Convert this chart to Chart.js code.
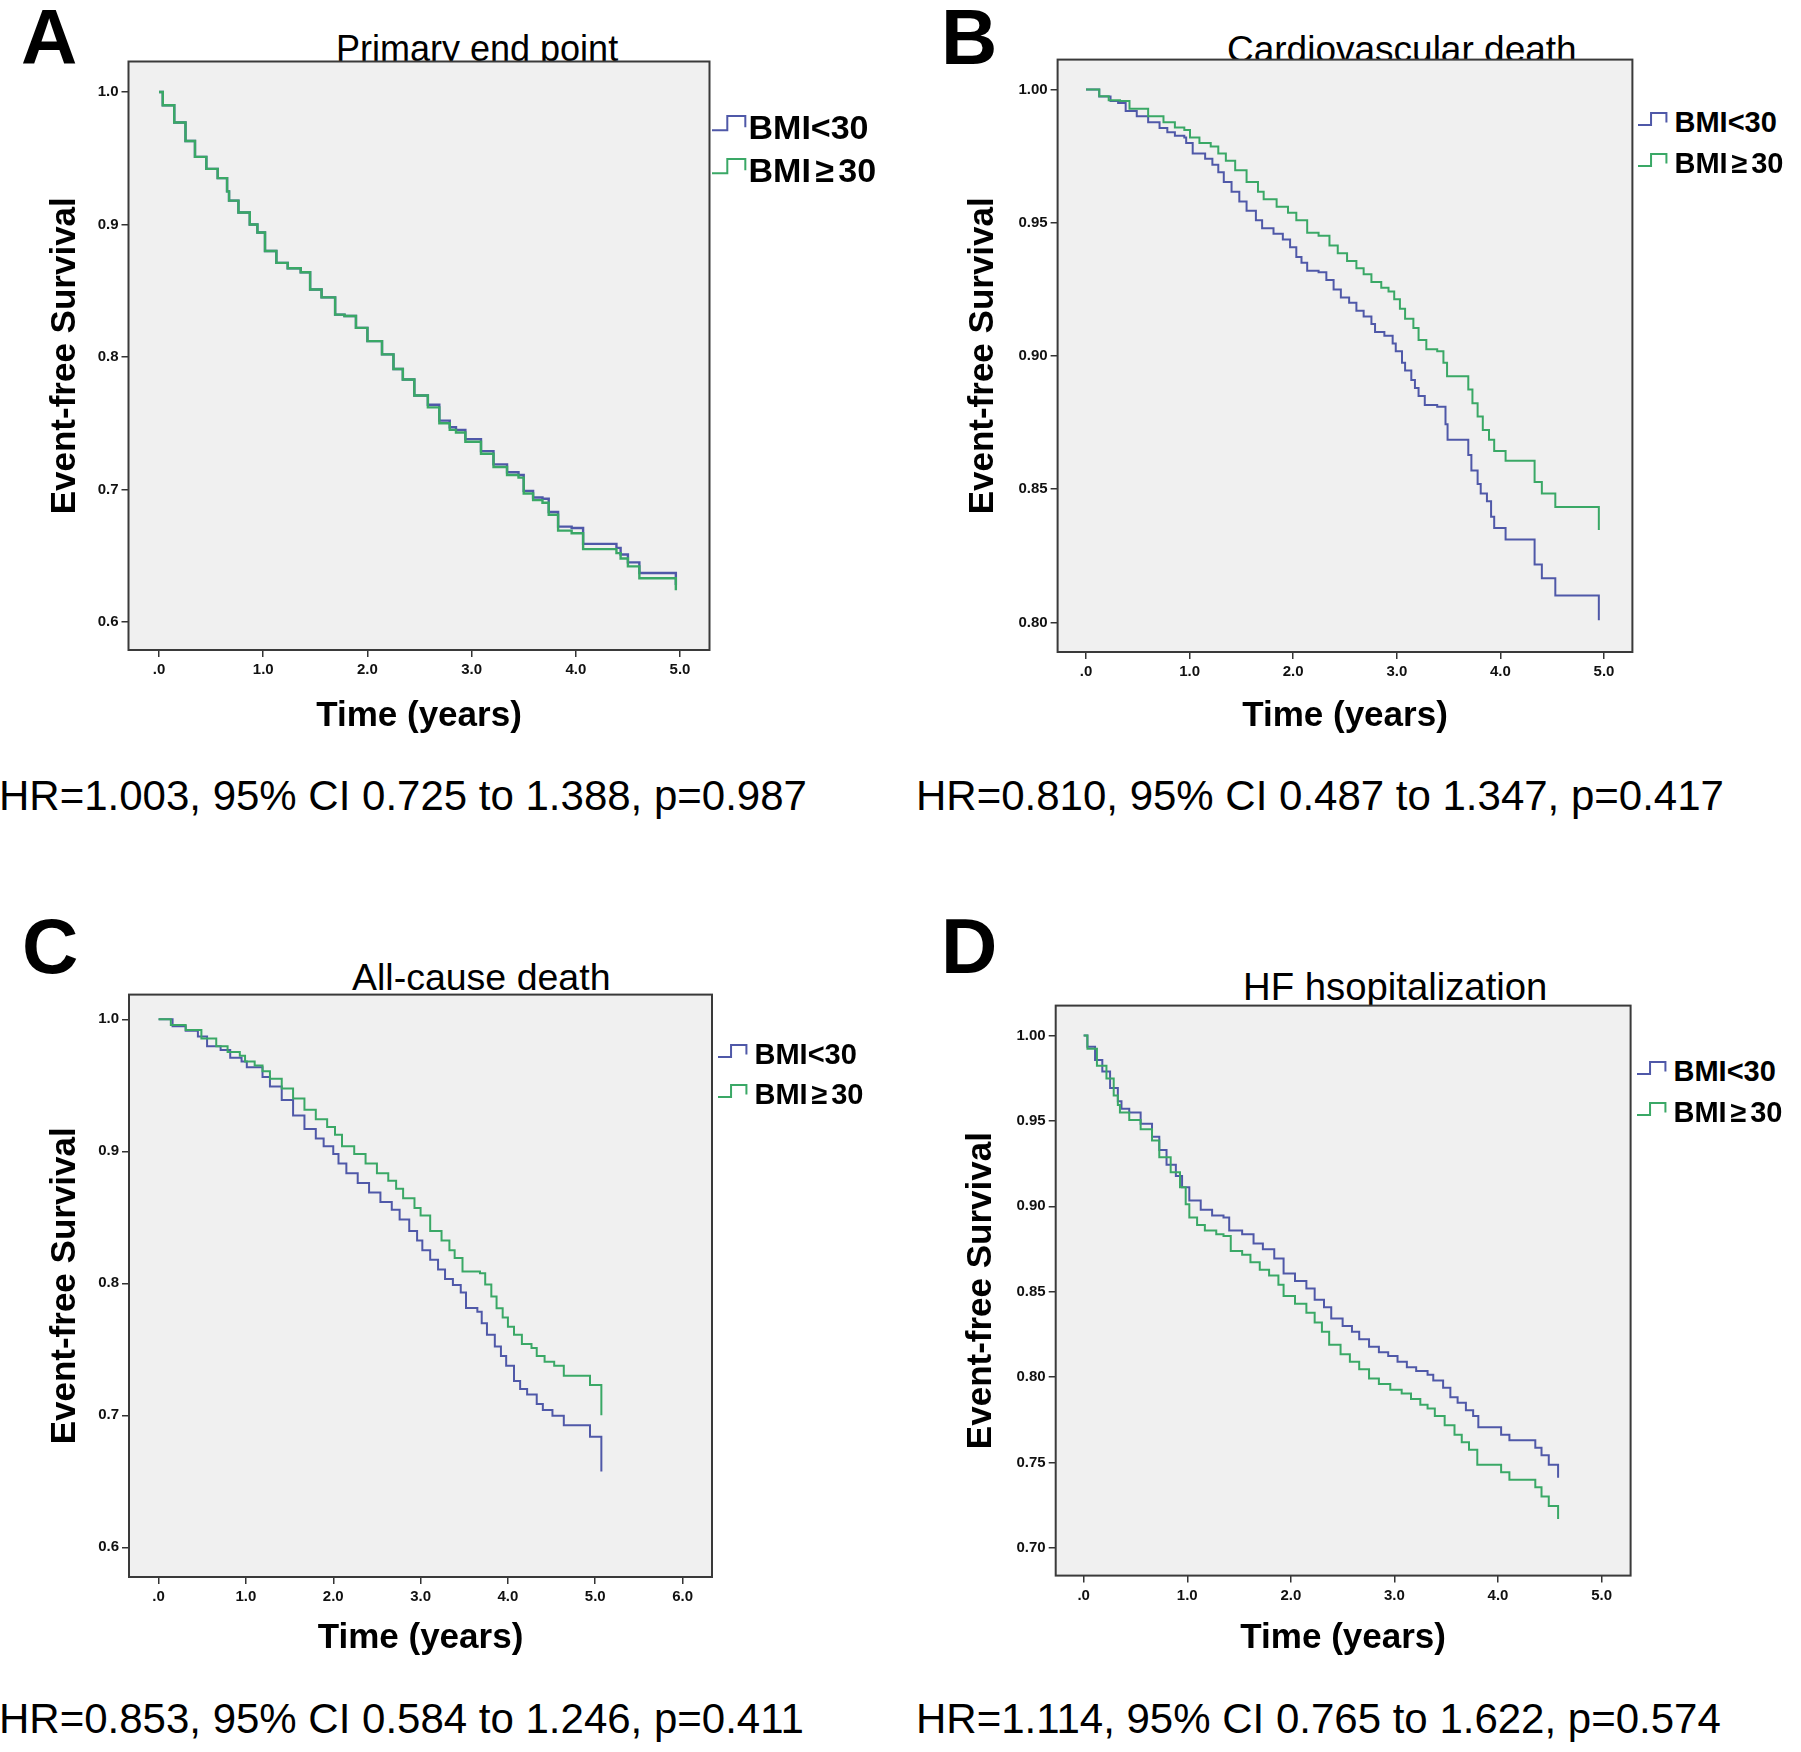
<!DOCTYPE html>
<html>
<head>
<meta charset="utf-8">
<script src="https://cdn.jsdelivr.net/npm/chart.js@4.4.1/dist/chart.umd.min.js"></script>
<style>
html,body{margin:0;padding:0;background:#fff;}
body{width:1801px;height:1752px;position:relative;overflow:hidden;font-family:"Liberation Sans",Arial,sans-serif;}
.t{position:absolute;white-space:nowrap;color:#000;line-height:1;z-index:1;}
.letter{font-weight:bold;font-size:78px;}
.hr{font-size:42px;}
.leg{font-weight:bold;z-index:3;}
.leg .ge{margin:0 0.13em;}
canvas{position:absolute;z-index:2;}
svg.sym{position:absolute;z-index:3;overflow:visible;}
</style>
</head>
<body>
<script>
// ---------------- DATA ----------------
const seriesNames = ['BMI<30', 'BMI\u226530'];
const panelLetters = ['A', 'B', 'C', 'D'];
const panelTitles = ['Primary end point', 'Cardiovascular death', 'All-cause death', 'HF hsopitalization'];
const hrTexts = [
  'HR=1.003, 95% CI 0.725 to 1.388, p=0.987',
  'HR=0.810, 95% CI 0.487 to 1.347, p=0.417',
  'HR=0.853, 95% CI 0.584 to 1.246, p=0.411',
  'HR=1.114, 95% CI 0.765 to 1.622, p=0.574'
];
const xAxisTitle = 'Time (years)';
const yAxisTitle = 'Event-free Survival';

const xTicksA = [0, 1, 2, 3, 4, 5];
const xTicksB = [0, 1, 2, 3, 4, 5];
const xTicksC = [0, 1, 2, 3, 4, 5, 6];
const xTicksD = [0, 1, 2, 3, 4, 5];
const yTicksA = [0.6, 0.7, 0.8, 0.9, 1.0];
const yTicksB = [0.80, 0.85, 0.90, 0.95, 1.00];
const yTicksC = [0.6, 0.7, 0.8, 0.9, 1.0];
const yTicksD = [0.70, 0.75, 0.80, 0.85, 0.90, 0.95, 1.00];

// Panel A: primary end point
const aTime = [0,0.036,0.146,0.254,0.345,0.454,0.563,0.653,0.672,0.762,0.871,0.944,1.017,1.126,1.235,1.36,1.45,1.56,1.69,1.78,1.89,2.0,2.14,2.25,2.34,2.45,2.58,2.69,2.79,2.85,2.94,3.09,3.21,3.34,3.45,3.50,3.59,3.68,3.74,3.83,3.96,4.07,4.39,4.43,4.50,4.61,4.96];
const aSurvLow = [1.0,0.99,0.977,0.963,0.951,0.942,0.935,0.925,0.918,0.909,0.900,0.894,0.880,0.871,0.867,0.864,0.851,0.845,0.832,0.831,0.822,0.812,0.802,0.791,0.783,0.771,0.764,0.752,0.747,0.745,0.738,0.729,0.719,0.713,0.711,0.699,0.694,0.693,0.683,0.672,0.671,0.659,0.656,0.651,0.645,0.637,0.628];
const aSurvHigh = [1.0,0.99,0.977,0.963,0.951,0.942,0.935,0.925,0.918,0.909,0.900,0.894,0.880,0.871,0.867,0.864,0.851,0.845,0.832,0.831,0.822,0.812,0.802,0.791,0.783,0.771,0.762,0.750,0.745,0.743,0.736,0.727,0.717,0.711,0.709,0.697,0.692,0.690,0.681,0.669,0.667,0.655,0.652,0.648,0.642,0.633,0.624];

// Panel B: cardiovascular death
const bTimeLow = [0,0.128,0.237,0.31,0.383,0.49,0.60,0.71,0.785,0.858,0.949,0.967,1.03,1.15,1.22,1.277,1.33,1.405,1.48,1.55,1.64,1.70,1.81,1.90,1.97,2.03,2.08,2.135,2.245,2.32,2.39,2.46,2.54,2.61,2.68,2.755,2.79,2.88,2.96,2.99,3.05,3.08,3.14,3.175,3.21,3.27,3.39,3.47,3.49,3.69,3.72,3.78,3.81,3.87,3.91,3.94,4.05,4.33,4.40,4.53,4.95];
const bSurvLow = [1.0,0.9974,0.9957,0.995,0.992,0.990,0.9877,0.9856,0.984,0.9827,0.982,0.980,0.976,0.974,0.9718,0.969,0.9653,0.9617,0.958,0.9545,0.951,0.948,0.9459,0.9437,0.9408,0.9372,0.935,0.932,0.9314,0.9285,0.925,0.922,0.920,0.917,0.9148,0.912,0.909,0.9076,0.9047,0.9018,0.8975,0.8946,0.891,0.888,0.885,0.8816,0.881,0.8744,0.8686,0.8628,0.857,0.852,0.8484,0.8455,0.8397,0.8354,0.8311,0.8217,0.8166,0.8101,0.8008];
const bTimeHigh = [0,0.128,0.219,0.328,0.42,0.60,0.748,0.858,0.949,1.004,1.095,1.204,1.277,1.35,1.44,1.55,1.66,1.715,1.84,1.95,2.03,2.135,2.245,2.35,2.43,2.52,2.61,2.68,2.755,2.85,2.92,2.975,3.03,3.08,3.16,3.21,3.285,3.39,3.45,3.485,3.69,3.73,3.78,3.83,3.89,3.94,4.05,4.33,4.40,4.53,4.95];
const bSurvHigh = [1.0,0.9975,0.996,0.9957,0.9928,0.990,0.9877,0.9858,0.9848,0.982,0.980,0.9786,0.976,0.9733,0.9697,0.9653,0.9617,0.9588,0.956,0.9538,0.951,0.9463,0.9451,0.9415,0.9386,0.9357,0.9329,0.9307,0.9278,0.9256,0.9242,0.9213,0.9177,0.914,0.9105,0.906,0.9025,0.9018,0.8975,0.8924,0.8874,0.8823,0.8773,0.8722,0.8686,0.8643,0.8607,0.8527,0.8484,0.8433,0.8347];

// Panel C: all-cause death
const cTimeLow = [0,0.16,0.31,0.45,0.555,0.71,0.82,0.95,1.01,1.19,1.275,1.41,1.54,1.67,1.80,1.89,2.0,2.06,2.15,2.28,2.41,2.54,2.67,2.76,2.87,2.96,3.02,3.11,3.20,3.28,3.37,3.46,3.52,3.65,3.70,3.76,3.85,3.92,3.98,4.07,4.14,4.22,4.33,4.40,4.51,4.64,4.94,5.07];
const cSurvLow = [1.0,0.9948,0.9913,0.9869,0.9796,0.9767,0.9708,0.968,0.9636,0.9563,0.949,0.9388,0.9271,0.9169,0.9096,0.9038,0.898,0.8907,0.8834,0.876,0.8688,0.8615,0.8557,0.8484,0.8397,0.8324,0.825,0.8178,0.8105,0.8032,0.7988,0.793,0.7813,0.7784,0.7697,0.761,0.7522,0.745,0.7376,0.726,0.720,0.7157,0.7085,0.704,0.6997,0.6924,0.6837,0.6574];
const cTimeHigh = [0,0.14,0.31,0.49,0.66,0.79,0.93,0.99,1.10,1.19,1.275,1.41,1.54,1.67,1.80,1.93,2.02,2.10,2.24,2.37,2.50,2.63,2.72,2.80,2.93,3.0,3.11,3.24,3.33,3.39,3.48,3.68,3.74,3.81,3.87,3.94,4.0,4.07,4.16,4.27,4.33,4.42,4.53,4.64,4.94,5.07];
const cSurvHigh = [1.0,0.9956,0.9918,0.9854,0.9796,0.9752,0.9723,0.968,0.965,0.9606,0.955,0.9475,0.940,0.9315,0.9242,0.9184,0.9125,0.9038,0.898,0.8907,0.8834,0.8776,0.8717,0.8644,0.8571,0.8513,0.8397,0.8324,0.825,0.8192,0.809,0.8076,0.799,0.790,0.781,0.774,0.767,0.761,0.754,0.751,0.745,0.7405,0.7376,0.730,0.723,0.70];

// Panel D: HF hospitalization
const dTimeLow = [0,0.036,0.11,0.18,0.255,0.33,0.365,0.44,0.55,0.66,0.73,0.80,0.89,0.95,1.02,1.13,1.24,1.35,1.405,1.53,1.64,1.73,1.84,1.93,2.04,2.15,2.23,2.32,2.39,2.50,2.59,2.66,2.755,2.85,2.94,3.03,3.12,3.21,3.32,3.375,3.47,3.54,3.61,3.69,3.76,3.81,4.03,4.11,4.36,4.42,4.49,4.58];
const dSurvLow = [1.0,0.9934,0.9857,0.979,0.9693,0.9616,0.9572,0.955,0.9484,0.9407,0.933,0.9243,0.9177,0.9111,0.9034,0.898,0.8946,0.8935,0.8859,0.8837,0.8782,0.8749,0.8694,0.8606,0.8562,0.8518,0.8453,0.8409,0.8343,0.8299,0.8266,0.8222,0.8178,0.8145,0.8123,0.809,0.8057,0.8035,0.8013,0.798,0.7937,0.7882,0.7849,0.7805,0.7772,0.7706,0.7662,0.763,0.7586,0.7542,0.7487,0.741];
const dTimeHigh = [0,0.036,0.128,0.22,0.29,0.33,0.35,0.44,0.55,0.66,0.73,0.84,0.93,0.985,1.02,1.095,1.17,1.28,1.35,1.42,1.53,1.61,1.70,1.79,1.88,1.93,2.04,2.15,2.23,2.30,2.37,2.48,2.57,2.66,2.755,2.85,2.96,3.07,3.16,3.25,3.32,3.39,3.485,3.58,3.65,3.72,3.80,4.03,4.11,4.36,4.42,4.49,4.58];
const dSurvHigh = [1.0,0.9923,0.9824,0.9748,0.9649,0.9594,0.955,0.9506,0.9451,0.9385,0.9287,0.9199,0.9111,0.9012,0.8935,0.8891,0.8859,0.8837,0.8826,0.8738,0.8716,0.8672,0.8628,0.8595,0.854,0.8475,0.843,0.8376,0.832,0.8266,0.8189,0.8134,0.809,0.8046,0.7992,0.7959,0.7926,0.7904,0.7871,0.7838,0.7816,0.7772,0.7717,0.7662,0.7618,0.7574,0.7487,0.7443,0.7399,0.7355,0.73,0.7245,0.7168];

// ---------------- STYLE / LAYOUT ----------------
const BLUE = '#4f58a8';
const GREEN = '#3aa866';
const FONT = '"Liberation Sans", Arial, sans-serif';

const panels = [
  { tLow: aTime, sLow: aSurvLow, tHigh: aTime, sHigh: aSurvHigh, xTicks: xTicksA, yTicks: yTicksA, yDec: 1,
    xMin: -0.293, xMax: 5.283, yMin: 0.5789, yMax: 1.0230,
    canvas: {left: 0, top: 0, w: 770, h: 760}, padTop: 61.5, yAxisW: 128.5, boxRight: 709.5, xAxisBottom: 650,
    yTitlePad: 44, xTitleCenter: 716.5, lineW: 2.4,
    letter: {left: 21, top: -2}, title: {left: 336, top: 31, size: 36}, hr: {left: -1, top: 775},
    legSize: 34, legX: 712, legTextX: 748.5, legTops: [110, 153] },
  { tLow: bTimeLow, sLow: bSurvLow, tHigh: bTimeHigh, sHigh: bSurvHigh, xTicks: xTicksB, yTicks: yTicksB, yDec: 2,
    xMin: -0.274, xMax: 5.274, yMin: 0.7889, yMax: 1.01126,
    canvas: {left: 900, top: 0, w: 760, h: 760}, padTop: 59.6, yAxisW: 157.6, boxRight: 1632.4, xAxisBottom: 652,
    yTitlePad: 62.5, xTitleCenter: 716, lineW: 2,
    letter: {left: 941, top: -2}, title: {left: 1227, top: 30.5, size: 37}, hr: {left: 916, top: 775},
    legSize: 29, legX: 1638, legTextX: 1674.5, legTops: [108, 149] },
  { tLow: cTimeLow, sLow: cSurvLow, tHigh: cTimeHigh, sHigh: cSurvHigh, xTicks: xTicksC, yTicks: yTicksC, yDec: 1,
    xMin: -0.339, xMax: 6.337, yMin: 0.5775, yMax: 1.0187,
    canvas: {left: 0, top: 880, w: 770, h: 800}, padTop: 114.6, yAxisW: 129, boxRight: 712, xAxisBottom: 1577,
    yTitlePad: 44, xTitleCenter: 1638, lineW: 2,
    letter: {left: 22, top: 907}, title: {left: 352, top: 959, size: 37.5}, hr: {left: -1, top: 1698},
    legSize: 29, legX: 718, legTextX: 754.5, legTops: [1040, 1080] },
  { tLow: dTimeLow, sLow: dSurvLow, tHigh: dTimeHigh, sHigh: dSurvHigh, xTicks: xTicksD, yTicks: yTicksD, yDec: 2,
    xMin: -0.27, xMax: 5.28, yMin: 0.6837, yMax: 1.01756,
    canvas: {left: 900, top: 880, w: 760, h: 800}, padTop: 125.6, yAxisW: 155.7, boxRight: 1630.6, xAxisBottom: 1575.6,
    yTitlePad: 60.5, xTitleCenter: 1638, lineW: 2,
    letter: {left: 941, top: 907}, title: {left: 1243, top: 967.5, size: 38.3}, hr: {left: 916, top: 1698},
    legSize: 29, legX: 1637, legTextX: 1673.5, legTops: [1057, 1098] }
];

const boxPlugin = {
  id: 'spssBox',
  beforeDraw(chart) {
    const {ctx, chartArea: a} = chart;
    ctx.save();
    ctx.fillStyle = '#f0f0f0';
    ctx.fillRect(a.left, a.top, a.right - a.left, a.bottom - a.top);
    ctx.restore();
  },
  afterDraw(chart) {
    const {ctx, chartArea: a} = chart;
    ctx.save();
    ctx.strokeStyle = '#3a3a3a';
    ctx.lineWidth = 2;
    ctx.strokeRect(a.left, a.top, a.right - a.left, a.bottom - a.top);
    ctx.restore();
  }
};

function addText(cls, text, left, top, size) {
  const d = document.createElement('div');
  d.className = 't ' + cls;
  d.textContent = text;
  d.style.left = left + 'px';
  d.style.top = top + 'px';
  if (size) d.style.fontSize = size + 'px';
  document.body.appendChild(d);
  return d;
}

function addLegendText(name, left, top, size) {
  const d = document.createElement('div');
  d.className = 't leg';
  d.style.left = left + 'px';
  d.style.top = top + 'px';
  d.style.fontSize = size + 'px';
  const k = name.indexOf('\u2265');
  if (k >= 0) {
    d.appendChild(document.createTextNode(name.slice(0, k)));
    const s = document.createElement('span');
    s.className = 'ge';
    s.textContent = '\u2265';
    d.appendChild(s);
    d.appendChild(document.createTextNode(name.slice(k + 1)));
  } else {
    d.textContent = name;
  }
  document.body.appendChild(d);
}

function addLegendSymbol(x0, yTop, size, color) {
  const svgNS = 'http://www.w3.org/2000/svg';
  const svg = document.createElementNS(svgNS, 'svg');
  svg.setAttribute('class', 'sym');
  svg.setAttribute('width', '40');
  svg.setAttribute('height', '24');
  svg.style.left = x0 + 'px';
  svg.style.top = yTop + 'px';
  const h = size * 0.45, w1 = size * 0.45, w2 = size * 0.98, h2 = size * 0.36;
  const p = document.createElementNS(svgNS, 'path');
  p.setAttribute('d', `M0 ${h} H${w1} V1 H${w2} V${h2}`);
  p.setAttribute('fill', 'none');
  p.setAttribute('stroke', color);
  p.setAttribute('stroke-width', '2');
  svg.appendChild(p);
  document.body.appendChild(svg);
}

panels.forEach((p, i) => {
  addText('letter', panelLetters[i], p.letter.left, p.letter.top);
  addText('ptitle', panelTitles[i], p.title.left, p.title.top, p.title.size);
  addText('hr', hrTexts[i], p.hr.left, p.hr.top);
  seriesNames.forEach((name, k) => {
    addLegendText(name, p.legTextX, p.legTops[k], p.legSize);
    addLegendSymbol(p.legX, p.legTops[k] + p.legSize * 0.15, p.legSize, k === 0 ? BLUE : GREEN);
  });

  const cv = document.createElement('canvas');
  cv.width = p.canvas.w;
  cv.height = p.canvas.h;
  cv.style.left = p.canvas.left + 'px';
  cv.style.top = p.canvas.top + 'px';
  document.body.appendChild(cv);

  const padRight = p.canvas.left + p.canvas.w - p.boxRight;
  const xAxisH = p.canvas.top + p.canvas.h - p.xAxisBottom;
  const xTitlePadBottom = (p.canvas.top + p.canvas.h - p.xTitleCenter) - 21;

  new Chart(cv, {
    type: 'line',
    data: {
      datasets: [
        { label: seriesNames[0], order: 2, data: p.tLow.map((t, j) => ({x: t, y: p.sLow[j]})),
          borderColor: BLUE, borderWidth: p.lineW, stepped: 'before', pointRadius: 0, fill: false },
        { label: seriesNames[1], order: 1, data: p.tHigh.map((t, j) => ({x: t, y: p.sHigh[j]})),
          borderColor: GREEN, borderWidth: p.lineW, stepped: 'before', pointRadius: 0, fill: false }
      ]
    },
    options: {
      responsive: false, animation: false, devicePixelRatio: 1,
      layout: { padding: { left: 0, top: p.padTop, right: padRight, bottom: 0 } },
      plugins: { legend: { display: false }, tooltip: { enabled: false }, title: { display: false } },
      scales: {
        x: {
          type: 'linear', min: p.xMin, max: p.xMax,
          afterBuildTicks: s => { s.ticks = p.xTicks.map(v => ({value: v})); },
          afterFit: s => { s.height = xAxisH; },
          ticks: { callback: v => (v === 0 ? '.0' : Number(v).toFixed(1)), font: {family: FONT, size: 15, weight: 'bold'},
                   color: '#111', padding: 4, maxRotation: 0, autoSkip: false },
          grid: { drawOnChartArea: false, drawTicks: true, tickLength: 7, color: '#333', lineWidth: 1.5 },
          border: { display: false },
          title: { display: true, text: xAxisTitle, color: '#000', font: {family: FONT, size: 35, weight: 'bold'},
                   padding: { top: 0, bottom: xTitlePadBottom } }
        },
        y: {
          type: 'linear', min: p.yMin, max: p.yMax,
          afterBuildTicks: s => { s.ticks = p.yTicks.map(v => ({value: v})); },
          afterFit: s => { s.width = p.yAxisW; },
          ticks: { callback: v => Number(v).toFixed(p.yDec), font: {family: FONT, size: 15, weight: 'bold'},
                   color: '#111', padding: 3, autoSkip: false },
          grid: { drawOnChartArea: false, drawTicks: true, tickLength: 7, color: '#333', lineWidth: 1.5 },
          border: { display: false },
          title: { display: true, text: yAxisTitle, color: '#000', font: {family: FONT, size: 35, weight: 'bold'},
                   padding: { top: p.yTitlePad, bottom: 0 } }
        }
      }
    },
    plugins: [boxPlugin]
  });
});
</script>
</body>
</html>
